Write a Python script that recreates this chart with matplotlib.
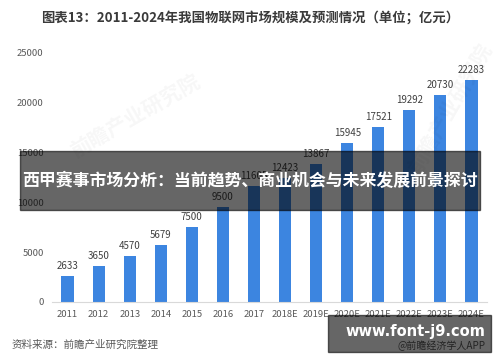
import matplotlib.pyplot as plt
from matplotlib.patches import Rectangle

plt.rcParams['font.family'] = ['Noto Sans CJK SC', 'DejaVu Sans']

# 物联网市场规模（亿元）
years = ['2011', '2012', '2013', '2014', '2015', '2016', '2017',
         '2018E', '2019E', '2020E', '2021E', '2022E', '2023E', '2024E']
values = [2633, 3650, 4570, 5679, 7500, 9500, 11605,
          12423, 13867, 15945, 17521, 19292, 20730, 22283]
yticks = [0, 5000, 10000, 15000, 20000, 25000]

title = '图表13：2011-2024年我国物联网市场规模及预测情况（单位；亿元）'
banner = '西甲赛事市场分析：当前趋势、商业机会与未来发展前景探讨'
source = '资料来源：前瞻产业研究院整理'
site = 'www.font-j9.com'
app = '@前瞻经济学人APP'

fig = plt.figure(figsize=(5, 3.62), dpi=100)
ax = fig.add_axes([0.104, 0.166, 0.87, 0.688])

x = range(len(years))
bars = ax.bar(x, values, width=0.39, color='#3c85e0')
for b, v in zip(bars, values):
    ax.text(b.get_x() + b.get_width() / 2, v + 500, str(v),
            ha='center', va='bottom', fontsize=7, color='#404040')

ax.set_xlim(-0.5, 13.5)
ax.set_ylim(0, 25000)
ax.set_xticks(list(x))
ax.set_xticklabels(years, fontsize=6.8, color='#595959')
ax.set_yticks(yticks)
ax.set_yticklabels([str(t) for t in yticks], fontsize=6.8, color='#595959')
ax.tick_params(length=0, pad=6)
for s in ['top', 'right', 'left']:
    ax.spines[s].set_visible(False)
ax.spines['bottom'].set_color('#d9d9d9')

# 水印
fig.text(0.27, 0.68, '前瞻产业研究院', fontsize=15, color='#000000', alpha=0.035,
         rotation=30, ha='center', va='center', fontweight='bold')
fig.text(0.9, 0.7, '前瞻产业研究院', fontsize=15, color='#000000', alpha=0.035,
         rotation=60, ha='center', va='center', fontweight='bold')

fig.text(0.5, 0.95, title, ha='center', va='center', fontsize=9.6,
         fontweight='bold', color='#3a3a3a')
fig.text(0.024, 0.047, source, ha='left', va='center', fontsize=7.6,
         color='#595959', style='italic')
fig.text(0.97, 0.044, app, ha='right', va='center', fontsize=7.2, color='#595959')

# 遮罩横幅
fig.patches.append(Rectangle((0.04, 0.42), 0.92, 0.163, transform=fig.transFigure,
                             color='#000000', alpha=0.6, zorder=5))
fig.text(0.5, 0.50, banner, ha='center', va='center', fontsize=12.2,
         fontweight='bold', color='white', zorder=6)

fig.patches.append(Rectangle((0.656, 0.028), 0.326, 0.102, transform=fig.transFigure,
                             color='#000000', alpha=0.6, zorder=5))
fig.text(0.83, 0.085, site, ha='center', va='center', fontsize=10.5,
         fontweight='bold', color='white', zorder=6, family='DejaVu Sans')

fig.savefig('out.png', dpi=100)
